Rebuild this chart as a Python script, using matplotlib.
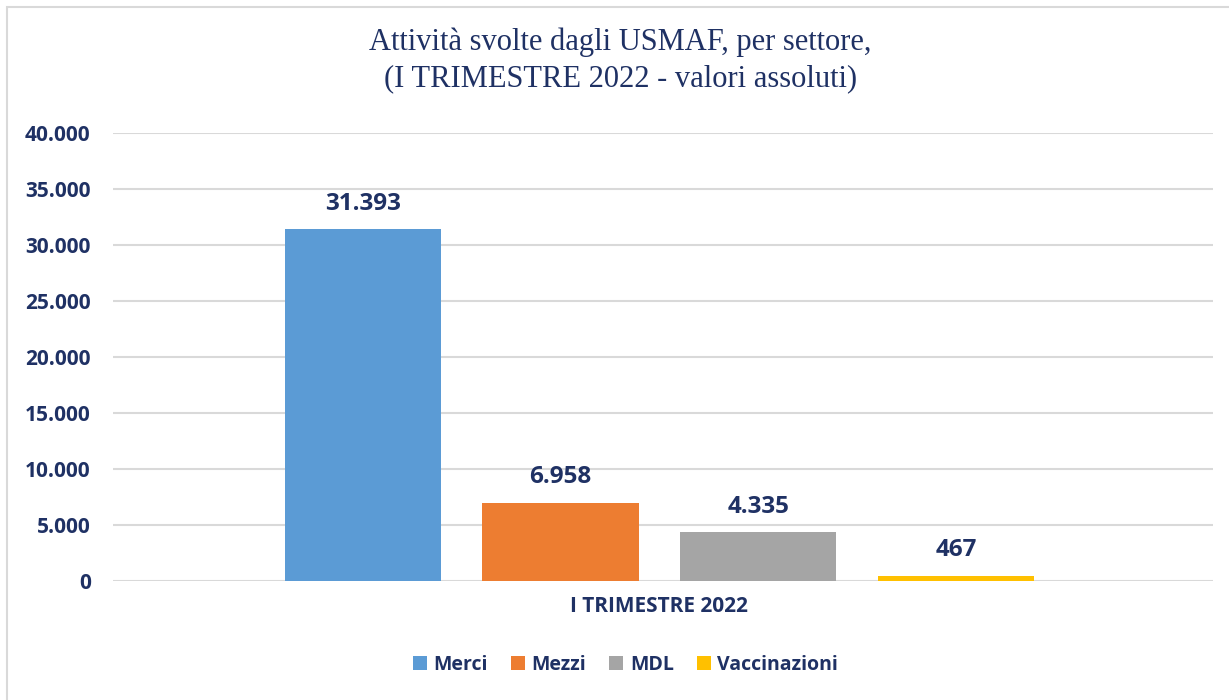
import numpy as np
import matplotlib.pyplot as plt
from matplotlib.patches import Rectangle

# data
series = ['Merci', 'Mezzi', 'MDL', 'Vaccinazioni']
values = [31393, 6958, 4335, 467]
colors = ['#5B9BD5', '#ED7D31', '#A5A5A5', '#FFC000']
category = 'I TRIMESTRE 2022'
yticks = [0, 5000, 10000, 15000, 20000, 25000, 30000, 35000, 40000]

navy = '#1F3164'
plt.rcParams['font.family'] = ['Open Sans', 'DejaVu Sans']

fig = plt.figure(figsize=(12.29, 7), dpi=100)
ax = fig.add_axes([0.0919, 0.17, 0.895, 0.64])

# frame around chart area
fig.patches.append(Rectangle((0.006, -0.01), 1.0, 1.0, transform=fig.transFigure,
                             fill=False, edgecolor='#D9D9D9', linewidth=1.5))

x = np.arange(len(series)) - 1.5
for xi, v, c, name in zip(x, values, colors, series):
    ax.bar(xi, v, width=0.79, color=c, label=name, zorder=3)
    ax.annotate(f'{v:,}'.replace(',', '.'), (xi, v), xytext=(0, 10),
                textcoords='offset points', ha='center', va='bottom',
                fontsize=17.5, fontweight='bold', color=navy)

ax.set_xlim(-2.764, 2.80)
ax.set_ylim(0, 40000)
ax.set_yticks(yticks)
ax.set_yticklabels([f'{t:,}'.replace(',', '.') for t in yticks],
                   fontsize=15, fontweight='bold', color=navy)
ax.tick_params(axis='y', length=0, pad=16)
ax.set_xticks([0.0])
ax.set_xticklabels([category], fontsize=15, fontweight='bold', color=navy)
ax.tick_params(axis='x', length=0, pad=11)
ax.grid(axis='y', color='#D9D9D9', linewidth=1.5, zorder=0)
for s in ax.spines.values():
    s.set_visible(False)

fig.text(0.505, 0.914, 'Attività svolte dagli USMAF, per settore,\n(I TRIMESTRE 2022 - valori assoluti)',
         ha='center', va='center', fontsize=22, color=navy,
         family='Liberation Serif', linespacing=1.3)

leg = fig.legend(loc='center', bbox_to_anchor=(0.509, 0.05), ncol=4, frameon=False,
                 handlelength=0.7, handleheight=0.7, handletextpad=0.35, columnspacing=1.2,
                 prop={'size': 14, 'weight': 'bold'})
for t in leg.get_texts():
    t.set_color(navy)

fig.savefig('out.png', dpi=100, facecolor='white')
